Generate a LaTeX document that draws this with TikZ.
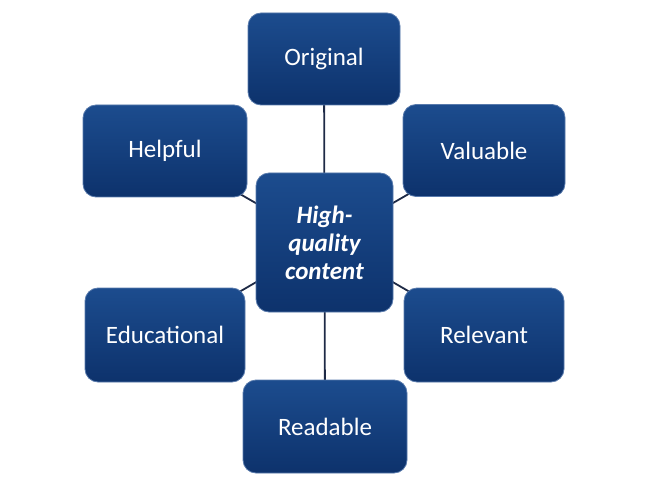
\documentclass[tikz,border=0pt]{standalone}
\usepackage{fontspec}
\setmainfont{Carlito}
\usetikzlibrary{backgrounds}
\definecolor{boxtop}{RGB}{28,76,142}
\definecolor{boxbot}{RGB}{13,50,108}
\definecolor{boxrim}{RGB}{88,122,172}
\definecolor{linkcol}{RGB}{30,42,70}
\tikzset{
	qbox/.style={rounded corners=13pt, top color=boxtop, bottom color=boxbot, draw=boxrim, line width=0.8pt, text=white, align=center, minimum height=92pt, inner sep=2pt, font=\fontsize{25}{28}\selectfont},
	link/.style={draw=linkcol, line width=1.8pt}
}
\begin{document}
\begin{tikzpicture}[x=1pt,y=-1pt, line join=round, line cap=round]
		\useasboundingbox (0,0) rectangle (645,481);
		\node[qbox, minimum width=152pt] (orig) at (324,59) {Original};
		\node[qbox, minimum width=164pt] (help) at (165,151) {Helpful};
		\node[qbox, minimum width=162pt] (valu) at (484,150.5) {Valuable};
		\node[qbox, minimum width=160pt, minimum height=94pt] (educ) at (165,335) {Educational};
		\node[qbox, minimum width=160pt, minimum height=94pt] (rele) at (484,335) {Relevant};
		\node[qbox, minimum width=164pt, minimum height=93pt] (read) at (325,426.5) {Readable};
		\node[qbox, minimum width=137pt, minimum height=139pt, font=\fontsize{25}{28}\selectfont\bfseries\itshape] (hub) at (324.5,242.5) {High-\\quality\\content};
		\begin{scope}[on background layer]
		\foreach \n in {orig,help,valu,educ,rele,read}
		\draw[link] (hub.center) -- (\n.center);
		\end{scope}
\end{tikzpicture}
\end{document}
